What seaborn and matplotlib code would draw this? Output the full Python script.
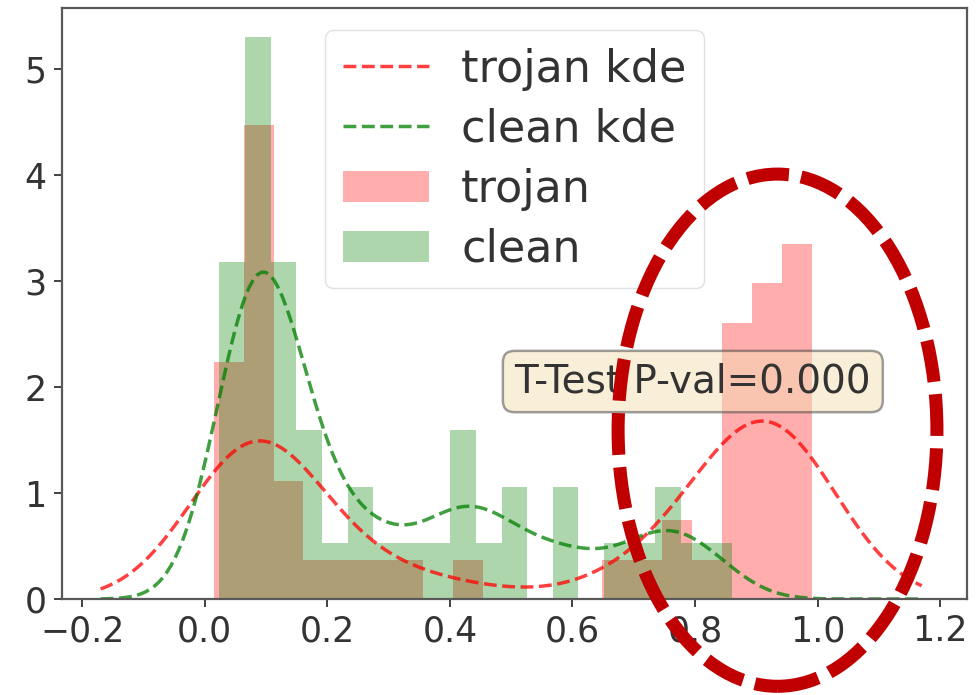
import numpy as np
import pandas as pd
import matplotlib
matplotlib.use("Agg")
import matplotlib.pyplot as plt
import seaborn as sns
from matplotlib.patches import Ellipse

# ---- data (histogram counts per bin) ----
trojan_bin_counts = [6, 12, 3, 1, 1, 1, 1, 0, 1, 0, 0, 0, 0, 1, 1, 2, 1, 7, 8, 9]
trojan_range = (0.0147, 0.9902)
clean_bin_counts = [6, 10, 6, 3, 1, 2, 1, 1, 1, 3, 1, 2, 0, 2, 0, 1, 1, 2, 1, 1]
clean_range = (0.0240, 0.8610)
pval_text = "T-Test P-val=0.000"
xticks = [-0.2, 0.0, 0.2, 0.4, 0.6, 0.8, 1.0, 1.2]
yticks = [0, 1, 2, 3, 4, 5]


def samples(counts, rng):
    counts = np.asarray(counts)
    edges = np.linspace(rng[0], rng[1], len(counts) + 1)
    centers = (edges[:-1] + edges[1:]) / 2
    return np.repeat(centers, counts)


trojan = samples(trojan_bin_counts, trojan_range)
clean = samples(clean_bin_counts, clean_range)

sns.set_style("ticks")
plt.rcParams["font.family"] = ["DejaVu Sans"]

fig = plt.figure(figsize=(9.78, 6.95), dpi=100)
ax = fig.add_axes([0.0634, 0.1381, 0.9254, 0.8504])

sns.histplot(x=trojan, bins=len(trojan_bin_counts), binrange=trojan_range,
             stat="density", color="red", alpha=0.32, linewidth=0,
             label="trojan", ax=ax)
sns.histplot(x=clean, bins=len(clean_bin_counts), binrange=clean_range,
             stat="density", color="green", alpha=0.32, linewidth=0,
             label="clean", ax=ax)
sns.kdeplot(x=trojan, bw_adjust=0.58, clip=(-0.17, 1.17), cut=10,
            color="red", linestyle="--", linewidth=2.5, alpha=0.75,
            label="trojan kde", ax=ax)
sns.kdeplot(x=clean, bw_adjust=0.52, clip=(-0.17, 1.17), cut=10,
            color="green", linestyle="--", linewidth=2.5, alpha=0.75,
            label="clean kde", ax=ax)

ax.set_xlim(-0.233, 1.244)
ax.set_ylim(0, 5.58)
ax.set_xticks(xticks)
ax.set_yticks(yticks)
ax.set_xticklabels([f"{v:.1f}".replace("-", "\u2212") for v in xticks])
ax.set_xlabel("")
ax.set_ylabel("")
ax.tick_params(axis="both", labelsize=25, length=6, width=1.3,
               colors=".2", pad=5)
for s in ax.spines.values():
    s.set_color(".35")
    s.set_linewidth(1.6)

handles, labels = ax.get_legend_handles_labels()
order = ["trojan kde", "clean kde", "trojan", "clean"]
hmap = dict(zip(labels, handles))
leg = ax.legend([hmap[k] for k in order], order, loc="upper center",
                fontsize=32, handlelength=1.95, labelspacing=0.38,
                borderpad=0.4, handletextpad=0.72, frameon=True,
                framealpha=0.8, edgecolor="0.85", fancybox=True)
for t in leg.get_texts():
    t.set_color(".2")

ax.text(0.5, 0.368, pval_text, transform=ax.transAxes, va="center",
        ha="left", fontsize=28, color=".2",
        bbox=dict(boxstyle="round", facecolor="wheat", edgecolor="0.25",
                  linewidth=1.8, alpha=0.5))

ell = Ellipse((0.795, 0.381), 0.326, 0.737, transform=fig.transFigure,
              fill=False, edgecolor="#C00000", linewidth=9.4,
              linestyle=(0, (3.2, 0.95)), clip_on=False, zorder=20)
fig.add_artist(ell)

fig.savefig("out.png", dpi=100)
